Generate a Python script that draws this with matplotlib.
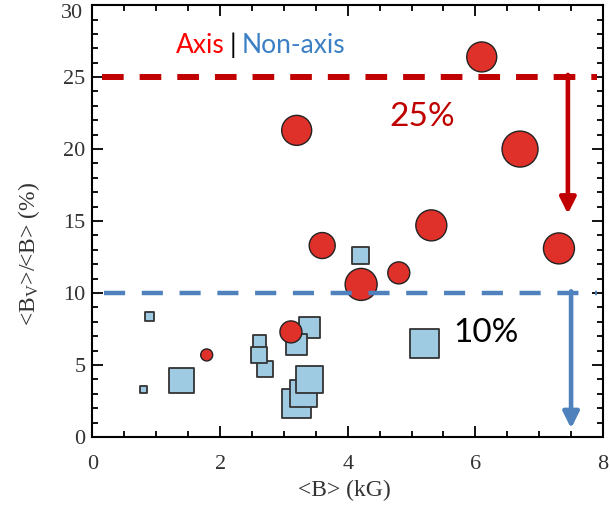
import numpy as np
import matplotlib.pyplot as plt
from matplotlib.ticker import MultipleLocator, FuncFormatter

plt.rcParams['lines.scale_dashes'] = False
plt.rcParams['mathtext.fontset'] = 'custom'
plt.rcParams['mathtext.rm'] = 'Liberation Serif'
plt.rcParams['mathtext.it'] = 'Liberation Serif:italic'

# axis stars (red circles): <B> in kG, <Bv>/<B> in %, marker diameter (px)
axis_b = [6.10, 3.20, 6.70, 3.60, 5.31, 7.31, 4.21, 4.80, 3.11, 1.79]
axis_ratio = [26.4, 21.3, 20.0, 13.3, 14.7, 13.1, 10.6, 11.4, 7.3, 5.7]
axis_size = [30, 30, 36, 26, 31, 31, 32, 22, 22, 12]

# non-axis stars (blue squares)
nonaxis_b = [0.90, 0.80, 1.40, 2.70, 2.61, 2.61, 3.20, 3.30, 3.40, 3.40, 3.20, 4.20, 5.21]
nonaxis_ratio = [8.4, 3.3, 3.9, 4.7, 6.6, 5.7, 2.3, 3.0, 4.0, 7.6, 6.4, 12.6, 6.5]
nonaxis_size = [9, 7, 25, 16, 13, 16, 29, 27, 27, 21, 21, 17, 29]

axis_limit = 25
nonaxis_limit = 10
ymax = 30

px = 0.72  # pixel -> points at dpi 100

fig = plt.figure(figsize=(6.1, 5.11), dpi=100)
ax = fig.add_axes([0.1516, 0.1448, 0.8369, 0.8452])

ax.scatter(nonaxis_b, nonaxis_ratio, s=(np.array(nonaxis_size) * px) ** 2,
           marker='s', facecolor='#9fcbe2', edgecolor='#333333', linewidth=1.3, zorder=2)
ax.scatter(axis_b, axis_ratio, s=(np.array(axis_size) * px) ** 2,
           marker='o', facecolor='#e0302a', edgecolor='#222222', linewidth=1.0, zorder=3)

red = '#c00000'
blue = '#4f81bd'
ax.plot([0.15, 7.9], [axis_limit, axis_limit], color=red, lw=4.3, dashes=(15.6, 11.5), zorder=4)
ax.plot([0.18, 7.9], [nonaxis_limit, nonaxis_limit], color=blue, lw=3.2, dashes=(15.2, 12), zorder=4)

ax.annotate('', xy=(7.45, 15.5), xytext=(7.45, axis_limit + 0.15),
            arrowprops=dict(arrowstyle='-|>', lw=3.3, color=red, mutation_scale=24,
                            shrinkA=0, shrinkB=0), zorder=5)
ax.annotate('', xy=(7.5, 0.6), xytext=(7.5, nonaxis_limit + 0.12),
            arrowprops=dict(arrowstyle='-|>', lw=3.3, color=blue, mutation_scale=24,
                            shrinkA=0, shrinkB=0), zorder=5)

ax.text(5.16, 22.2, '25%', color=red, fontsize=24, family='Lato', ha='center', va='center')
ax.text(6.17, 7.2, '10%', color='black', fontsize=24, family='Lato', ha='center', va='center')

ax.text(2.07, 27.2, 'Axis', color='#ff0000', fontsize=19, family='Lato', ha='right', va='center')
ax.text(2.2, 27.2, '|', color='black', fontsize=19, family='Lato', ha='center', va='center')
ax.text(2.33, 27.2, 'Non-axis', color='#3b80c4', fontsize=19, family='Lato', ha='left', va='center')

ax.set_xlim(0, 8)
ax.set_ylim(0, ymax)
ax.xaxis.set_major_locator(MultipleLocator(2))
ax.xaxis.set_minor_locator(MultipleLocator(0.5))
ax.yaxis.set_major_locator(MultipleLocator(5))
ax.yaxis.set_minor_locator(MultipleLocator(1))
# top label drawn by hand a bit lower so it stays inside the figure
ax.yaxis.set_major_formatter(FuncFormatter(lambda v, p: '' if v >= ymax else '%d' % v))
ax.tick_params(which='both', direction='in', top=True, right=True, width=1.3,
               labelsize=16, labelcolor='#333333')
ax.tick_params(which='major', length=8)
ax.tick_params(which='minor', length=4)
ax.tick_params(axis='x', pad=13)
ax.tick_params(axis='y', pad=5)
for lab in ax.get_xticklabels() + ax.get_yticklabels():
    lab.set_family('Liberation Serif')
for s in ax.spines.values():
    s.set_linewidth(1.5)

ax.annotate('%d' % ymax, xy=(0, ymax), xycoords=('axes fraction', 'data'),
            xytext=(-6.5, -6), textcoords='offset points', ha='right', va='center',
            fontsize=16, family='Liberation Serif', color='#333333')

ax.set_xlabel('<B> (kG)', family='Liberation Serif', fontsize=17, color='#333333')
ax.set_ylabel(r'<B$_\mathrm{V}$>/<B> (%)', family='Liberation Serif', fontsize=17,
              color='#333333')
ax.xaxis.set_label_coords(0.493, -0.10)
ax.yaxis.set_label_coords(-0.099, 0.424)

fig.savefig('out.png', dpi=100)
